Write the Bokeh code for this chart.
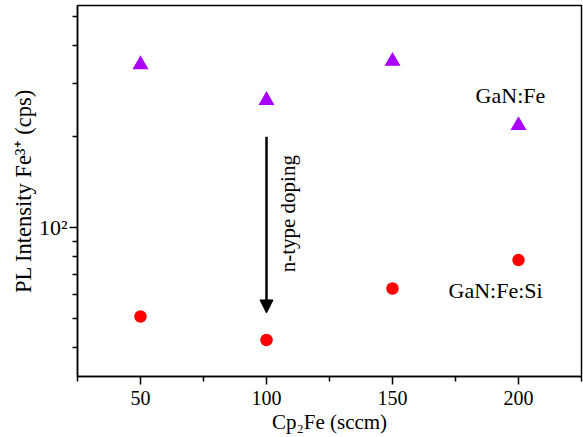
from bokeh.plotting import figure
from bokeh.models import Range1d, FixedTicker, CustomJSTickFormatter, Label, Arrow, NormalHead, ColumnDataSource
from bokeh.embed import file_html
from bokeh.resources import INLINE
import math

# Data
cp2fe = [50, 100, 150, 200]
gan_fe = [347, 264, 356, 218]
gan_fe_si = [50.6, 42.3, 62.7, 77.9]

x_major = [50, 100, 150, 200]
x_minor = [25, 75, 125, 175, 225]
y_major = [100]
y_minor = [40, 50, 60, 70, 80, 90, 200, 300, 400, 500]

FONT = "Liberation Serif"

p = figure(width=583, height=437, output_backend="svg", toolbar_location=None,
           y_axis_type="log", x_range=Range1d(25, 225), y_range=Range1d(32, 545),
           min_border_left=77, min_border_right=2, min_border_top=5, min_border_bottom=61)

p.xgrid.visible = False
p.ygrid.visible = False
p.outline_line_color = "black"
p.outline_line_width = 1.5
p.background_fill_color = "white"
p.border_fill_color = "white"

src1 = ColumnDataSource(dict(x=cp2fe, y=gan_fe))
src2 = ColumnDataSource(dict(x=cp2fe, y=gan_fe_si))
p.scatter("x", "y", source=src1, marker="triangle", size=16, color="#AA00FF", line_color=None)
p.scatter("x", "y", source=src2, marker="circle", size=12.5, color="#FF0000", line_color=None)

# Axes
xa = p.xaxis[0]
xa.ticker = FixedTicker(ticks=x_major, minor_ticks=x_minor)
xa.axis_label = "Cp\u2082Fe (sccm)"
ya = p.yaxis[0]
ya.ticker = FixedTicker(ticks=y_major, minor_ticks=y_minor)
ya.formatter = CustomJSTickFormatter(code="return Math.abs(tick - 100) < 1e-6 ? '10\u00b2' : ''")
ya.axis_label = "PL Intensity Fe\u00b3\u207a (cps)"

for ax in (xa, ya):
    ax.axis_line_color = "black"
    ax.axis_line_width = 1.5
    ax.major_tick_line_color = "black"
    ax.minor_tick_line_color = "black"
    ax.major_tick_line_width = 1.5
    ax.minor_tick_line_width = 1.5
    ax.major_tick_in = 0
    ax.minor_tick_in = 0
    ax.major_tick_out = 8
    ax.minor_tick_out = 5
    ax.major_label_text_font = FONT
    ax.major_label_text_font_size = "20px"
    ax.major_label_text_color = "black"
    ax.axis_label_text_font = FONT
    ax.axis_label_text_font_size = "21px"
    ax.axis_label_text_font_style = "normal"
    ax.axis_label_text_color = "black"

xa.major_label_standoff = 6
xa.axis_label_standoff = 2
ya.major_label_standoff = 2
ya.major_label_text_font_size = "22px"
ya.axis_label_text_font_size = "22.5px"
ya.axis_label_standoff = 0

# Annotations
p.add_layout(Label(x=196.8, y=274, text="GaN:Fe", text_align="center", text_baseline="middle",
                   text_font=FONT, text_font_size="22px", text_color="black"))
p.add_layout(Label(x=190.9, y=61.6, text="GaN:Fe:Si", text_align="center", text_baseline="middle",
                   text_font=FONT, text_font_size="22px", text_color="black"))
p.add_layout(Label(x=108.7, y=111, text="n-type doping", angle=math.pi / 2, text_align="center",
                   text_baseline="middle", text_font=FONT, text_font_size="21px", text_color="black"))
p.add_layout(Arrow(x_start=100, y_start=200, x_end=100, y_end=52, line_width=2.5, line_color="black",
                   end=NormalHead(size=13, fill_color="black", line_color="black")))

open("out.html", "w").write(file_html(p, INLINE))
